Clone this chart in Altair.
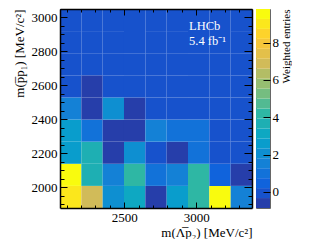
import altair as alt
import pandas as pd
import numpy as np

# ---------------- data ----------------
x_edges = [2054.0, 2202.1, 2350.2, 2498.3, 2646.4, 2794.6, 2942.7, 3090.8, 3238.9, 3387.0]
y_edges = [1876.5, 2006.9, 2137.3, 2267.7, 2398.1, 2528.5, 2658.9, 2789.3, 2919.7, 3050.0]

# weighted entries, one list per m(pbar p1) bin (bottom row first), columns left -> right
row_1 = [9.0, 6.9, 2.0, 3.1, -0.6, 2.7, 4.2, 9.5, 1.5]
row_2 = [9.8, 3.7, 1.4, 4.2, 1.0, 1.6, 4.2, 0.5, -0.6]
row_3 = [2.7, 3.7, -0.7, 2.1, 0.1, -0.5, 0.9, 0.0, 0.0]
row_4 = [2.7, 0.8, -0.6, -0.7, 1.6, 0.9, 0.9, 0.0, 0.0]
row_5 = [1.6, -0.86, 2.1, -0.6, 0.0, 0.0, 0.0, 0.0, 0.0]
row_6 = [0.0, -0.7, 0.0, 0.0, 0.0, 0.0, 0.0, 0.0, 0.0]
row_7 = [0.0, 0.0, 0.0, 0.0, 0.0, 0.0, 0.0, 0.0, 0.0]
row_8 = [0.0, 0.0, 0.0, 0.0, 0.0, 0.0, 0.0, 0.0, 0.0]
row_9 = [0.0, 0.0, 0.0, 0.0, 0.0, 0.0, 0.0, 0.0, 0.0]
rows = [row_1, row_2, row_3, row_4, row_5, row_6, row_7, row_8, row_9]

x_major = [2500, 3000]
x_minor = [2100, 2200, 2300, 2400, 2600, 2700, 2800, 2900, 3100, 3200, 3300]
y_major = [2000, 2200, 2400, 2600, 2800, 3000]
y_minor = [1900, 1950, 2050, 2100, 2150, 2250, 2300, 2350, 2450, 2500, 2550,
           2650, 2700, 2750, 2850, 2900, 2950, 3050]
z_ticks = [0, 2, 4, 6, 8]
z_min, z_max = -0.86, 9.8

ann_label = ["LHCb", "5.4 fb\u207b\u00b9"]
ann_x = [2950, 2950]
ann_y = [2925, 2840]

records = []
for j, row in enumerate(rows):
    for i, z in enumerate(row):
        records.append({"x0": x_edges[i], "x1": x_edges[i + 1],
                        "y0": y_edges[j], "y1": y_edges[j + 1], "z": z})
df = pd.DataFrame(records)

# ---------------- colour palette (ROOT kBird, 20 contour levels) ----------------
stops = [0.0, 0.125, 0.25, 0.375, 0.5, 0.625, 0.75, 0.875, 1.0]
red = [0.2082, 0.0592, 0.0780, 0.0232, 0.1802, 0.5301, 0.8186, 0.9956, 0.9764]
green = [0.1664, 0.3599, 0.5041, 0.6419, 0.7178, 0.7492, 0.7328, 0.7862, 0.9832]
blue = [0.5293, 0.8684, 0.8385, 0.7914, 0.6425, 0.4662, 0.3499, 0.1968, 0.0539]
n_levels = 20


def bird(f):
    r = np.interp(f, stops, red)
    g = np.interp(f, stops, green)
    b = np.interp(f, stops, blue)
    return "#%02x%02x%02x" % (int(round(r * 255)), int(round(g * 255)), int(round(b * 255)))


palette = [bird((i + 1) / n_levels) for i in range(n_levels)]
cscale = alt.Scale(type="quantize", domain=[z_min, z_max], range=palette)

step = (z_max - z_min) / n_levels
cb = pd.DataFrame({
    "lo": [z_min + i * step for i in range(n_levels)],
    "hi": [z_min + (i + 1) * step for i in range(n_levels)],
    "mid": [z_min + (i + 0.5) * step for i in range(n_levels)],
})

# ---------------- layout ----------------
W, H = 192, 199
FONT = "Liberation Serif"
xdom = [2054, 3387]
ydom = [1876.5, 3050]


def xs():
    return alt.Scale(domain=xdom, nice=False, zero=False)


def ys():
    return alt.Scale(domain=ydom, nice=False, zero=False)


common = dict(grid=False, domain=False, zindex=1, tickColor="black", tickWidth=1)
frame = dict(grid=False, domain=True, domainColor="black", domainWidth=1.5, ticks=False,
             labels=False, title=None, zindex=2, offset=0)
lab = dict(labelFont=FONT, labelFontSize=13, labelColor="black")
tit = dict(titleFont=FONT, titleFontSize=13, titleFontWeight="normal", titleColor="black")

heat = alt.Chart(df).mark_rect().encode(
    x=alt.X("x0:Q", scale=xs(), axis=alt.Axis(
        orient="bottom", values=x_major, format="d", tickSize=6, offset=-6, labelPadding=3,
        title="m(\u039b\u0305p\u2082) [MeV/c\u00b2]", titleX=W, titleY=30, titleAlign="right",
        titleBaseline="middle", **lab, **tit, **common)),
    x2="x1:Q",
    y=alt.Y("y0:Q", scale=ys(), axis=alt.Axis(
        orient="left", values=y_major, format="d", tickSize=7, offset=-7, labelPadding=3,
        title="m(p\u0305p\u2081) [MeV/c\u00b2]", titleX=-48, titleY=0, titleAlign="right",
        titleAngle=270, titleBaseline="middle", **lab, **tit, **common)),
    y2="y1:Q",
    color=alt.Color("z:Q", scale=cscale, legend=None),
)

minor = alt.Chart(df).mark_rect(opacity=0).encode(
    x=alt.X("x0:Q", scale=xs(), axis=alt.Axis(
        orient="bottom", values=x_minor, tickSize=3, offset=-3, labels=False, title=None, **common)),
    x2="x1:Q",
    y=alt.Y("y0:Q", scale=ys(), axis=alt.Axis(
        orient="left", values=y_minor, tickSize=4, offset=-4, labels=False, title=None, **common)),
    y2="y1:Q",
)

mirror_major = alt.Chart(df).mark_rect(opacity=0).encode(
    x=alt.X("x0:Q", scale=xs(), axis=alt.Axis(
        orient="top", values=x_major, tickSize=6, offset=-6, labels=False, title=None, **common)),
    x2="x1:Q",
    y=alt.Y("y0:Q", scale=ys(), axis=alt.Axis(
        orient="right", values=y_major, tickSize=8, offset=-8, labels=False, title=None, **common)),
    y2="y1:Q",
)

mirror_minor = alt.Chart(df).mark_rect(opacity=0).encode(
    x=alt.X("x0:Q", scale=xs(), axis=alt.Axis(
        orient="top", values=x_minor, tickSize=3, offset=-3, labels=False, title=None, **common)),
    x2="x1:Q",
    y=alt.Y("y0:Q", scale=ys(), axis=alt.Axis(
        orient="right", values=y_minor, tickSize=4, offset=-4, labels=False, title=None, **common)),
    y2="y1:Q",
)

frame_bl = alt.Chart(df).mark_rect(opacity=0).encode(
    x=alt.X("x0:Q", scale=xs(), axis=alt.Axis(orient="bottom", **frame)),
    x2="x1:Q",
    y=alt.Y("y0:Q", scale=ys(), axis=alt.Axis(orient="left", **frame)),
    y2="y1:Q",
)

frame_tr = alt.Chart(df).mark_rect(opacity=0).encode(
    x=alt.X("x0:Q", scale=xs(), axis=alt.Axis(orient="top", **frame)),
    x2="x1:Q",
    y=alt.Y("y0:Q", scale=ys(), axis=alt.Axis(orient="right", **frame)),
    y2="y1:Q",
)

ann = pd.DataFrame({"label": ann_label, "x": ann_x, "y": ann_y})
text = alt.Chart(ann).mark_text(align="left", baseline="alphabetic", font=FONT, fontSize=12.5,
                                color="white").encode(
    x=alt.X("x:Q", scale=xs(), axis=None),
    y=alt.Y("y:Q", scale=ys(), axis=None),
    text="label:N",
)

main = alt.layer(heat, minor, mirror_major, mirror_minor, frame_bl, frame_tr, text).resolve_scale(
    x="independent", y="independent").resolve_axis(
    x="independent", y="independent").properties(
    width=W, height=H, view=alt.ViewBackground(strokeOpacity=0))

colorbar = alt.Chart(cb).mark_rect().encode(
    x=alt.value(0),
    x2=alt.value(14),
    y=alt.Y("lo:Q", scale=alt.Scale(domain=[z_min, z_max], nice=False, zero=False), axis=alt.Axis(
        orient="right", values=z_ticks, format="d", tickSize=7, offset=-7, labelPadding=2,
        title="Weighted entries", titleFont=FONT, titleFontSize=11, titleFontWeight="normal",
        titleColor="black", titleX=23, titleY=0, titleAlign="right", titleAngle=270,
        titleBaseline="middle", **lab, **common)),
    y2="hi:Q",
    color=alt.Color("mid:Q", scale=cscale, legend=None),
).properties(width=14, height=H, view=alt.ViewBackground(stroke="#666666", strokeWidth=1))

chart = alt.hconcat(main, colorbar, spacing=2).properties(
    padding={"left": 5, "top": 0, "right": 0, "bottom": 0}
).configure(font=FONT)

chart.save("out.html", embed_options={"renderer": "svg", "actions": False})
